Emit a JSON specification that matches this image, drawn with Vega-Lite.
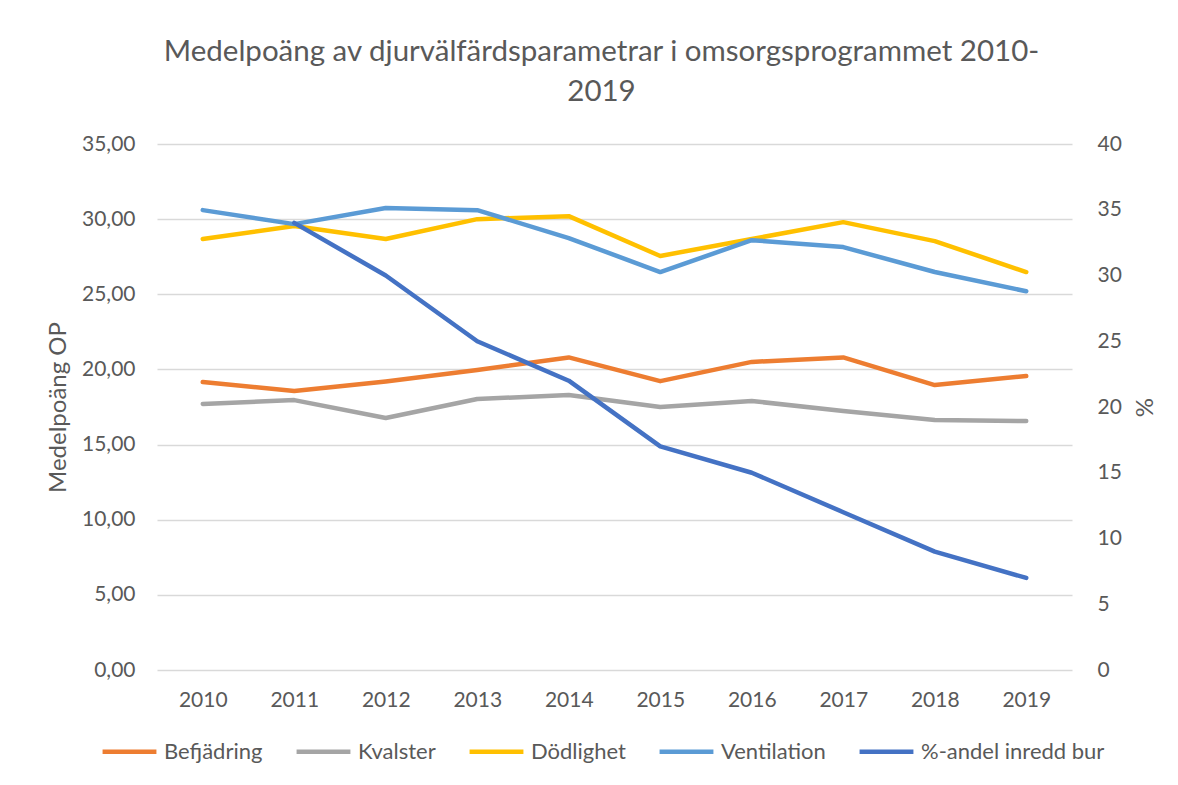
{
  "$schema": "https://vega.github.io/schema/vega-lite/v6.json",
  "width": 915,
  "height": 526,
  "autosize": {"type": "none"},
  "padding": {"left": 157, "top": 144, "right": 106, "bottom": 115},
  "title": {
    "text": ["Medelpoäng av djurvälfärdsparametrar i omsorgsprogrammet 2010-", "2019"],
    "fontSize": 29.5,
    "font": "Lato",
    "fontWeight": "normal",
    "color": "#595959",
    "anchor": "middle",
    "lineHeight": 40,
    "offset": 26,
    "dx": -13
  },
  "config": {
    "locale": {"number": {"decimal": ",", "thousands": " ", "grouping": [3], "currency": ["", " kr"]}},
    "font": "Lato",
    "view": {"stroke": null}
  },
  "data": {
    "values": [
      {"year": "2010", "series": "Befjädring", "value": 19.16},
      {"year": "2011", "series": "Befjädring", "value": 18.56},
      {"year": "2012", "series": "Befjädring", "value": 19.2},
      {"year": "2013", "series": "Befjädring", "value": 19.96},
      {"year": "2014", "series": "Befjädring", "value": 20.8},
      {"year": "2015", "series": "Befjädring", "value": 19.22},
      {"year": "2016", "series": "Befjädring", "value": 20.5},
      {"year": "2017", "series": "Befjädring", "value": 20.8},
      {"year": "2018", "series": "Befjädring", "value": 18.96},
      {"year": "2019", "series": "Befjädring", "value": 19.56},
      {"year": "2010", "series": "Kvalster", "value": 17.7},
      {"year": "2011", "series": "Kvalster", "value": 17.96},
      {"year": "2012", "series": "Kvalster", "value": 16.77},
      {"year": "2013", "series": "Kvalster", "value": 18.03},
      {"year": "2014", "series": "Kvalster", "value": 18.3},
      {"year": "2015", "series": "Kvalster", "value": 17.5},
      {"year": "2016", "series": "Kvalster", "value": 17.9},
      {"year": "2017", "series": "Kvalster", "value": 17.23},
      {"year": "2018", "series": "Kvalster", "value": 16.63},
      {"year": "2019", "series": "Kvalster", "value": 16.57},
      {"year": "2010", "series": "Dödlighet", "value": 28.68},
      {"year": "2011", "series": "Dödlighet", "value": 29.54},
      {"year": "2012", "series": "Dödlighet", "value": 28.68},
      {"year": "2013", "series": "Dödlighet", "value": 30.0},
      {"year": "2014", "series": "Dödlighet", "value": 30.2},
      {"year": "2015", "series": "Dödlighet", "value": 27.55},
      {"year": "2016", "series": "Dödlighet", "value": 28.68},
      {"year": "2017", "series": "Dödlighet", "value": 29.8},
      {"year": "2018", "series": "Dödlighet", "value": 28.54},
      {"year": "2019", "series": "Dödlighet", "value": 26.48},
      {"year": "2010", "series": "Ventilation", "value": 30.6},
      {"year": "2011", "series": "Ventilation", "value": 29.67},
      {"year": "2012", "series": "Ventilation", "value": 30.74},
      {"year": "2013", "series": "Ventilation", "value": 30.6},
      {"year": "2014", "series": "Ventilation", "value": 28.74},
      {"year": "2015", "series": "Ventilation", "value": 26.48},
      {"year": "2016", "series": "Ventilation", "value": 28.6},
      {"year": "2017", "series": "Ventilation", "value": 28.14},
      {"year": "2018", "series": "Ventilation", "value": 26.48},
      {"year": "2019", "series": "Ventilation", "value": 25.2},
      {"year": "2011", "series": "%-andel inredd bur", "value": 34},
      {"year": "2012", "series": "%-andel inredd bur", "value": 30},
      {"year": "2013", "series": "%-andel inredd bur", "value": 25},
      {"year": "2014", "series": "%-andel inredd bur", "value": 22},
      {"year": "2015", "series": "%-andel inredd bur", "value": 17},
      {"year": "2016", "series": "%-andel inredd bur", "value": 15},
      {"year": "2017", "series": "%-andel inredd bur", "value": 12},
      {"year": "2018", "series": "%-andel inredd bur", "value": 9},
      {"year": "2019", "series": "%-andel inredd bur", "value": 7}
    ]
  },
  "encoding": {
    "x": {
      "field": "year",
      "type": "ordinal",
      "title": null,
      "axis": {
        "labelAngle": 0,
        "labelFontSize": 21,
        "labelColor": "#595959",
        "labelPadding": 19,
        "domain": false,
        "ticks": false
      }
    },
    "color": {
      "field": "series",
      "type": "nominal",
      "scale": {
        "domain": ["Befjädring", "Kvalster", "Dödlighet", "Ventilation", "%-andel inredd bur"],
        "range": ["#ED7D31", "#A5A5A5", "#FFC000", "#5B9BD5", "#4472C4"]
      },
      "legend": {
        "title": null,
        "orient": "none",
        "direction": "horizontal",
        "legendX": -57,
        "legendY": 578,
        "symbolType": "stroke",
        "symbolSize": 2900,
        "symbolStrokeWidth": 4.5,
        "labelFontSize": 22,
        "labelColor": "#595959",
        "labelOffset": 5,
        "columnPadding": 24,
        "labelLimit": 300
      }
    }
  },
  "layer": [
    {
      "transform": [{"filter": "datum.series !== '%-andel inredd bur'"}],
      "mark": {"type": "line", "strokeWidth": 4.5, "strokeCap": "round", "strokeJoin": "round"},
      "encoding": {
        "y": {
          "field": "value",
          "type": "quantitative",
          "title": "Medelpoäng OP",
          "scale": {"domain": [0, 35], "nice": false, "zero": true},
          "axis": {
            "values": [0, 5, 10, 15, 20, 25, 30, 35],
            "format": ".2f",
            "labelFontSize": 21,
            "labelColor": "#595959",
            "labelPadding": 22,
            "titleFontSize": 24,
            "titleFontWeight": "normal",
            "titleColor": "#595959",
            "titlePadding": 11,
            "domain": false,
            "ticks": false,
            "grid": true,
            "gridColor": "#D9D9D9",
            "gridWidth": 1.3
          }
        }
      }
    },
    {
      "transform": [{"filter": "datum.series === '%-andel inredd bur'"}],
      "mark": {"type": "line", "strokeWidth": 4.5, "strokeCap": "round", "strokeJoin": "round"},
      "encoding": {
        "y": {
          "field": "value",
          "type": "quantitative",
          "title": "%",
          "scale": {"domain": [0, 40], "nice": false, "zero": true},
          "axis": {
            "orient": "right",
            "values": [0, 5, 10, 15, 20, 25, 30, 35, 40],
            "labelFontSize": 21,
            "labelColor": "#595959",
            "labelPadding": 25,
            "titleFontSize": 24,
            "titleFontWeight": "normal",
            "titleColor": "#595959",
            "titlePadding": 9,
            "domain": false,
            "ticks": false,
            "grid": false
          }
        }
      }
    }
  ],
  "resolve": {"scale": {"y": "independent"}}
}
